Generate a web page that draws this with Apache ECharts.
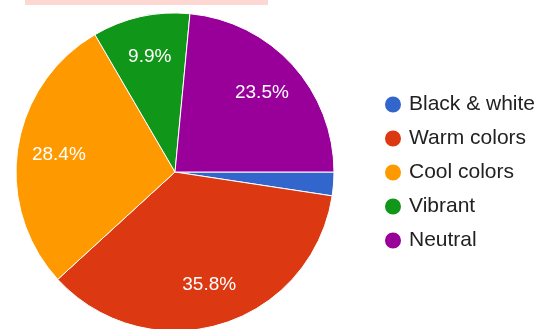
<!DOCTYPE html>
<html>
<head>
<meta charset="utf-8">
<script src="https://cdn.jsdelivr.net/npm/echarts@6/dist/echarts.min.js"></script>
<style>
  html, body { margin: 0; padding: 0; background: #fff; }
  #chart { width: 543px; height: 329px; }
</style>
</head>
<body>
<div id="chart"></div>
<script>
var categories = ['Black & white', 'Warm colors', 'Cool colors', 'Vibrant', 'Neutral'];
var percents = [2.4, 35.8, 28.4, 9.9, 23.5];
var colors = ['#3366cc', '#dc3912', '#ff9900', '#109618', '#990099'];

var chart = echarts.init(document.getElementById('chart'));

var pieData = categories.map(function (name, i) {
    return { name: name, value: percents[i], itemStyle: { color: colors[i] } };
});

// labels are drawn by a transparent ring so they sit at ~0.72 of the radius
var labelData = categories.map(function (name, i) {
    return {
        name: name,
        value: percents[i],
        label: { show: percents[i] > 5 }
    };
});

var option = {
    backgroundColor: '#fff',
    animation: false,
    legend: {
        orient: 'vertical',
        left: 378,
        top: 89,
        icon: 'circle',
        itemWidth: 18,
        itemHeight: 18,
        itemGap: 13,
        data: categories,
        textStyle: {
            fontFamily: 'Arial, "Liberation Sans", sans-serif',
            fontSize: 21,
            lineHeight: 20,
            color: '#222',
            padding: [0, 0, 0, 2]
        }
    },
    graphic: [{
        type: 'rect',
        shape: { x: 25, y: 0, width: 243, height: 5 },
        style: { fill: '#fdd8d3' },
        silent: true
    }],
    series: [{
        type: 'pie',
        center: [175, 172],
        radius: [0, 159],
        startAngle: 0,
        clockwise: true,
        label: { show: false },
        labelLine: { show: false },
        itemStyle: { borderColor: '#fff', borderWidth: 1 },
        emphasis: { disabled: true },
        data: pieData
    }, {
        type: 'pie',
        center: [175, 172],
        radius: [70, 159],
        startAngle: 0,
        clockwise: true,
        silent: true,
        legendHoverLink: false,
        itemStyle: { color: 'rgba(0,0,0,0)' },
        label: {
            position: 'inside',
            formatter: function (p) { return p.value.toFixed(1) + '%'; },
            color: '#fff',
            fontFamily: 'Arial, "Liberation Sans", sans-serif',
            fontSize: 19
        },
        labelLine: { show: false },
        data: labelData
    }]
};

chart.setOption(option);
</script>
</body>
</html>
